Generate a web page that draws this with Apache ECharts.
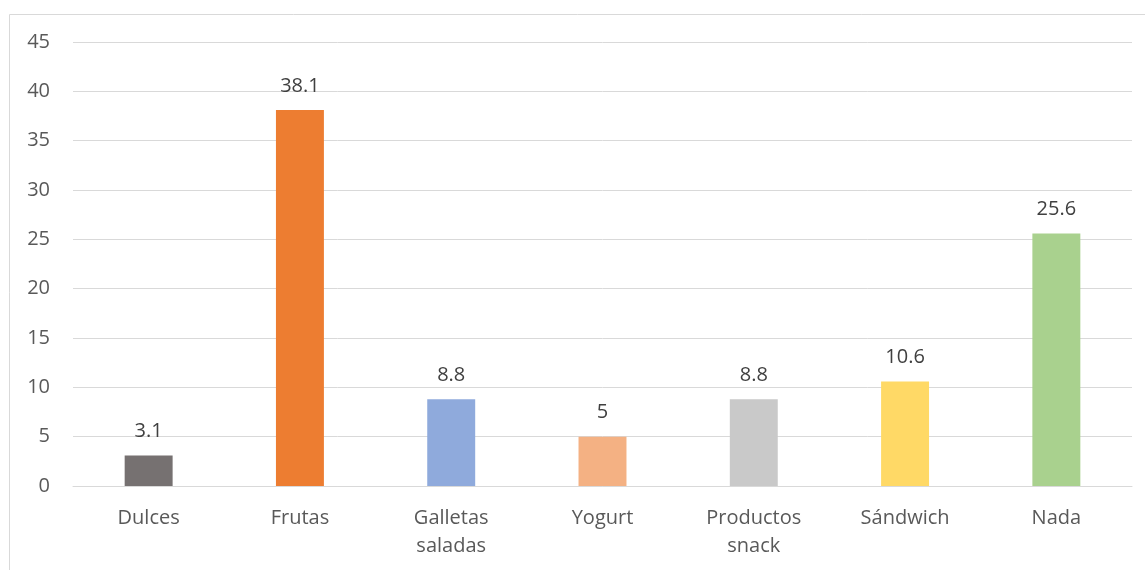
<!DOCTYPE html>
<html><head><meta charset="utf-8">
<script src="https://cdn.jsdelivr.net/npm/echarts@6/dist/echarts.min.js"></script>
<style>html,body{margin:0;padding:0;background:#fff}#c{width:1145px;height:570px}</style>
</head><body><div id="c"></div>
<script>
const categories = ['Dulces','Frutas','Galletas\nsaladas','Yogurt','Productos\nsnack','Sándwich','Nada'];
const values = [3.1, 38.1, 8.8, 5, 8.8, 10.6, 25.6];
const colors = ['#767171','#ED7D31','#8FAADC','#F4B183','#C9C9C9','#FFD966','#A9D18E'];
const yTicks = {min:0, max:45, interval:5};
const font = '"Open Sans", sans-serif';
const chart = echarts.init(document.getElementById('c'), null, {renderer:'canvas'});
chart.setOption({
  animation:false,
  graphic:[{type:'rect', shape:{x:9.5,y:14.5,width:1200,height:600}, style:{fill:'none',stroke:'#d9d9d9',lineWidth:1}}],
  grid:{left:73,right:13,top:42,bottom:84},
  xAxis:{type:'category',data:categories,
    axisLine:{lineStyle:{color:'#d9d9d9',width:1}},axisTick:{show:false},
    axisLabel:{color:'#595959',fontSize:20,fontFamily:font,margin:18,lineHeight:28,interval:0}},
  yAxis:{type:'value',min:yTicks.min,max:yTicks.max,interval:yTicks.interval,
    axisLine:{show:false},axisTick:{show:false},
    splitLine:{lineStyle:{color:'#d9d9d9',width:1}},
    axisLabel:{color:'#595959',fontSize:20,fontFamily:font,margin:23}},
  series:[{type:'bar',barWidth:'31.7%',
    data:values.map((v,i)=>({value:v,itemStyle:{color:colors[i]}})),
    label:{show:true,position:'top',distance:14,color:'#404040',fontSize:20,fontFamily:font}}]
});
</script></body></html>
